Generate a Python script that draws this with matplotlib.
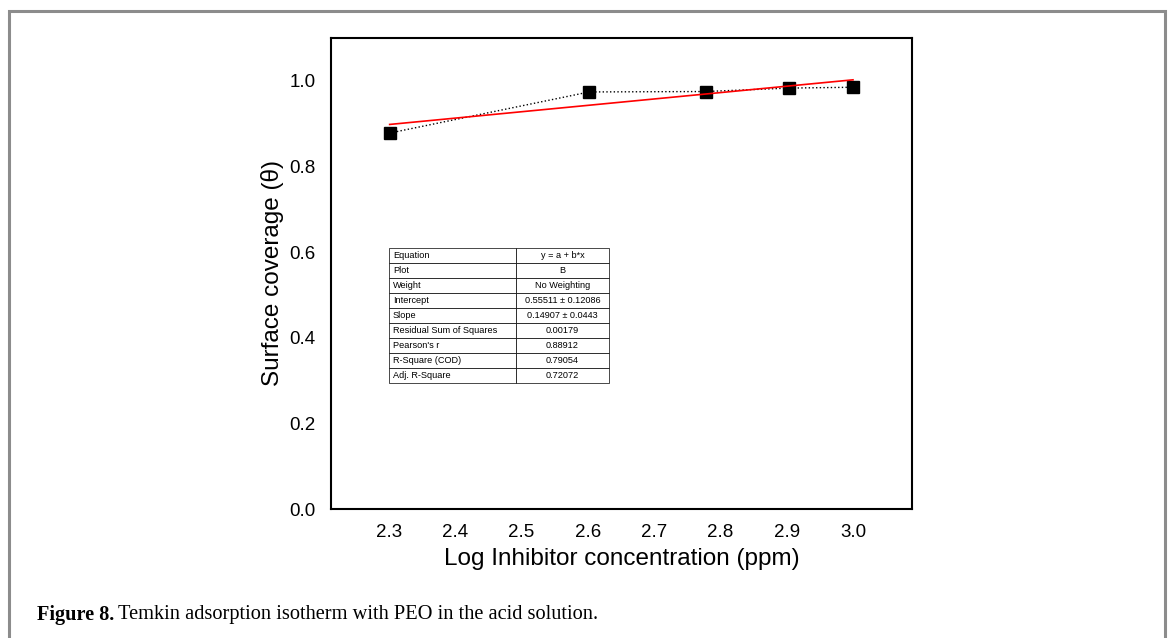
import matplotlib.pyplot as plt
from matplotlib.patches import Rectangle

plt.rcParams['font.family'] = ['Liberation Sans', 'DejaVu Sans']

# data: log of inhibitor concentration vs surface coverage
log_conc = [2.301, 2.602, 2.778, 2.903, 3.0]
theta = [0.878, 0.974, 0.975, 0.983, 0.985]

# linear fit results (Origin style)
intercept = 0.55511
slope = 0.14907
fit_x = [2.301, 3.0]

table_rows = [
    ["Equation", "y = a + b*x"],
    ["Plot", "B"],
    ["Weight", "No Weighting"],
    ["Intercept", "0.55511 \u00b1 0.12086"],
    ["Slope", "0.14907 \u00b1 0.0443"],
    ["Residual Sum of Squares", "0.00179"],
    ["Pearson's r", "0.88912"],
    ["R-Square (COD)", "0.79054"],
    ["Adj. R-Square", "0.72072"],
]

fig = plt.figure(figsize=(11.71, 6.38), dpi=100)

# outer grey frame
fig.patches.append(Rectangle((8.5 / 1171, -0.05), (1165 - 8.5) / 1171, 1.05 - 11 / 638,
                             transform=fig.transFigure, fill=False,
                             edgecolor='#8c8c8c', linewidth=2.2))

ax = fig.add_axes([331 / 1171, 1 - 509 / 638, (912 - 331) / 1171, (509 - 38) / 638])

ax.plot(log_conc, theta, linestyle=':', color='black', linewidth=1.0,
        marker='s', markersize=8, markerfacecolor='black', markeredgecolor='black')
ax.plot(fit_x, [intercept + slope * x for x in fit_x], color='red', linewidth=1.2)

ax.set_xlim(2.2125, 3.089)
ax.set_ylim(0, 1.1)
ax.set_xticks([2.3, 2.4, 2.5, 2.6, 2.7, 2.8, 2.9, 3.0])
ax.set_yticks([0.0, 0.2, 0.4, 0.6, 0.8, 1.0])
ax.set_xticklabels(['2.3', '2.4', '2.5', '2.6', '2.7', '2.8', '2.9', '3.0'])
ax.set_yticklabels(['0.0', '0.2', '0.4', '0.6', '0.8', '1.0'])
ax.tick_params(length=0, labelsize=13.5, pad=11)
for s in ax.spines.values():
    s.set_linewidth(1.5)

ax.set_xlabel('Log Inhibitor concentration (ppm)', fontsize=17.5, labelpad=5)
ax.set_ylabel('Surface coverage (\u03b8)', fontsize=17.5, labelpad=4)

tbl = ax.table(cellText=table_rows, cellLoc='left',
               bbox=[(389 - 331) / 581, (509 - 383) / 471, (609 - 389) / 581, (383 - 248) / 471])
tbl.auto_set_font_size(False)
tbl.set_fontsize(6.6)
for (r, c), cell in tbl.get_celld().items():
    cell.set_linewidth(0.5)
    if c == 0:
        cell.set_width((516 - 389) / 581)
        cell.PAD = 0.03
    else:
        cell.set_width((609 - 516) / 581)
        cell._loc = 'center'
        cell.get_text().set_horizontalalignment('center')

fig.text(37 / 1171, 1 - 615 / 638, 'Figure 8.', fontsize=14.6, fontweight='bold',
         family='Liberation Serif', va='center')
fig.text(118 / 1171, 1 - 615 / 638, 'Temkin adsorption isotherm with PEO in the acid solution.',
         fontsize=14.7, family='Liberation Serif', va='center')

fig.savefig('out.png', dpi=100)
